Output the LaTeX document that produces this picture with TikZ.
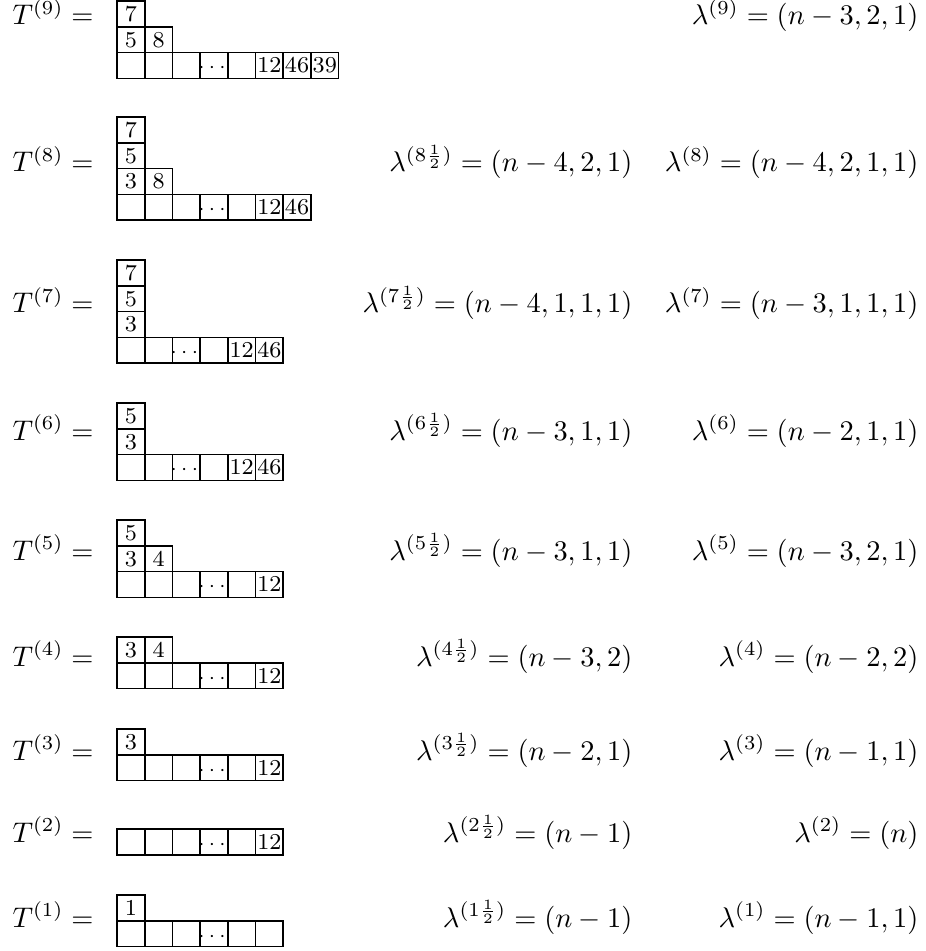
\documentclass[tikz,border=0pt]{standalone}
\usepackage{amsmath}
\usepackage{amssymb}

\newcommand{\dts}{\makebox[0pt]{\scriptsize$\cdots$}}

\tikzset{
  cell/.style={draw, line width=0.6pt, minimum width=9.75pt, minimum height=9.08pt,
    inner sep=0pt, outer sep=0pt, anchor=north west, font=\footnotesize,
    text height=5.2pt, text depth=0pt},
  lhs/.style={anchor=base west, inner sep=0pt},
  lam/.style={anchor=base east, inner sep=0pt}
}

\begin{document}
\begin{tikzpicture}[x=0.3521pt, y=-0.3521pt]
            \useasboundingbox (0,0) rectangle (926,951);
            % T^(9)
            \node[lhs] (T9) at (12,25) {$T^{(9)} =$};
            \foreach \c [count=\i] in {7} \node[cell] (t9a\i) at ({117+27.7*(\i-1)},1) {\c};
            \foreach \c [count=\i] in {5,8} \node[cell] (t9b\i) at ({117+27.7*(\i-1)},26.8) {\c};
            \foreach \c [count=\i] in {{},{},{},\dts,{},12,46,39} \node[cell] (t9c\i) at ({117+27.7*(\i-1)},52.6) {\c};
            \node[lam] (l9) at (919,25) {$\lambda^{(9)} = (n-3,2,1)$};
            % T^(8)
            \node[lhs] (T8) at (12,172) {$T^{(8)} =$};
            \foreach \c [count=\i] in {7} \node[cell] (t8a\i) at ({117+27.7*(\i-1)},117) {\c};
            \foreach \c [count=\i] in {5} \node[cell] (t8b\i) at ({117+27.7*(\i-1)},142.8) {\c};
            \foreach \c [count=\i] in {3,8} \node[cell] (t8c\i) at ({117+27.7*(\i-1)},168.6) {\c};
            \foreach \c [count=\i] in {{},{},{},\dts,{},12,46} \node[cell] (t8d\i) at ({117+27.7*(\i-1)},194.4) {\c};
            \node[lam] (h8) at (633,172) {$\lambda^{(8\frac12)} = (n-4,2,1)$};
            \node[lam] (l8) at (919,172) {$\lambda^{(8)} = (n-4,2,1,1)$};
            % T^(7)
            \node[lhs] (T7) at (12,313) {$T^{(7)} =$};
            \foreach \c [count=\i] in {7} \node[cell] (t7a\i) at ({117+27.7*(\i-1)},260) {\c};
            \foreach \c [count=\i] in {5} \node[cell] (t7b\i) at ({117+27.7*(\i-1)},285.8) {\c};
            \foreach \c [count=\i] in {3} \node[cell] (t7c\i) at ({117+27.7*(\i-1)},311.6) {\c};
            \foreach \c [count=\i] in {{},{},\dts,{},12,46} \node[cell] (t7d\i) at ({117+27.7*(\i-1)},337.4) {\c};
            \node[lam] (h7) at (633,313) {$\lambda^{(7\frac12)} = (n-4,1,1,1)$};
            \node[lam] (l7) at (919,313) {$\lambda^{(7)} = (n-3,1,1,1)$};
            % T^(6)
            \node[lhs] (T6) at (12,440) {$T^{(6)} =$};
            \foreach \c [count=\i] in {5} \node[cell] (t6a\i) at ({117+27.7*(\i-1)},403) {\c};
            \foreach \c [count=\i] in {3} \node[cell] (t6b\i) at ({117+27.7*(\i-1)},428.8) {\c};
            \foreach \c [count=\i] in {{},{},\dts,{},12,46} \node[cell] (t6c\i) at ({117+27.7*(\i-1)},454.6) {\c};
            \node[lam] (h6) at (633,440) {$\lambda^{(6\frac12)} = (n-3,1,1)$};
            \node[lam] (l6) at (919,440) {$\lambda^{(6)} = (n-2,1,1)$};
            % T^(5)
            \node[lhs] (T5) at (12,560) {$T^{(5)} =$};
            \foreach \c [count=\i] in {5} \node[cell] (t5a\i) at ({117+27.7*(\i-1)},520) {\c};
            \foreach \c [count=\i] in {3,4} \node[cell] (t5b\i) at ({117+27.7*(\i-1)},545.8) {\c};
            \foreach \c [count=\i] in {{},{},{},\dts,{},12} \node[cell] (t5c\i) at ({117+27.7*(\i-1)},571.6) {\c};
            \node[lam] (h5) at (633,560) {$\lambda^{(5\frac12)} = (n-3,1,1)$};
            \node[lam] (l5) at (919,560) {$\lambda^{(5)} = (n-3,2,1)$};
            % T^(4)
            \node[lhs] (T4) at (12,666) {$T^{(4)} =$};
            \foreach \c [count=\i] in {3,4} \node[cell] (t4a\i) at ({117+27.7*(\i-1)},637) {\c};
            \foreach \c [count=\i] in {{},{},{},\dts,{},12} \node[cell] (t4b\i) at ({117+27.7*(\i-1)},662.8) {\c};
            \node[lam] (h4) at (633,666) {$\lambda^{(4\frac12)} = (n-3,2)$};
            \node[lam] (l4) at (919,666) {$\lambda^{(4)} = (n-2,2)$};
            % T^(3)
            \node[lhs] (T3) at (12,760) {$T^{(3)} =$};
            \foreach \c [count=\i] in {3} \node[cell] (t3a\i) at ({117+27.7*(\i-1)},729) {\c};
            \foreach \c [count=\i] in {{},{},{},\dts,{},12} \node[cell] (t3b\i) at ({117+27.7*(\i-1)},754.8) {\c};
            \node[lam] (h3) at (633,760) {$\lambda^{(3\frac12)} = (n-2,1)$};
            \node[lam] (l3) at (919,760) {$\lambda^{(3)} = (n-1,1)$};
            % T^(2)
            \node[lhs] (T2) at (12,842) {$T^{(2)} =$};
            \foreach \c [count=\i] in {{},{},{},\dts,{},12} \node[cell] (t2a\i) at ({117+27.7*(\i-1)},829) {\c};
            \node[lam] (h2) at (633,842) {$\lambda^{(2\frac12)} = (n-1)$};
            \node[lam] (l2) at (919,842) {$\lambda^{(2)} = (n)$};
            % T^(1)
            \node[lhs] (T1) at (12,927) {$T^{(1)} =$};
            \foreach \c [count=\i] in {1} \node[cell] (t1a\i) at ({117+27.7*(\i-1)},895) {\c};
            \foreach \c [count=\i] in {{},{},{},\dts,{},{}} \node[cell] (t1b\i) at ({117+27.7*(\i-1)},920.8) {\c};
            \node[lam] (h1) at (633,927) {$\lambda^{(1\frac12)} = (n-1)$};
            \node[lam] (l1) at (919,927) {$\lambda^{(1)} = (n-1,1)$};
        \end{tikzpicture}
\end{document}
